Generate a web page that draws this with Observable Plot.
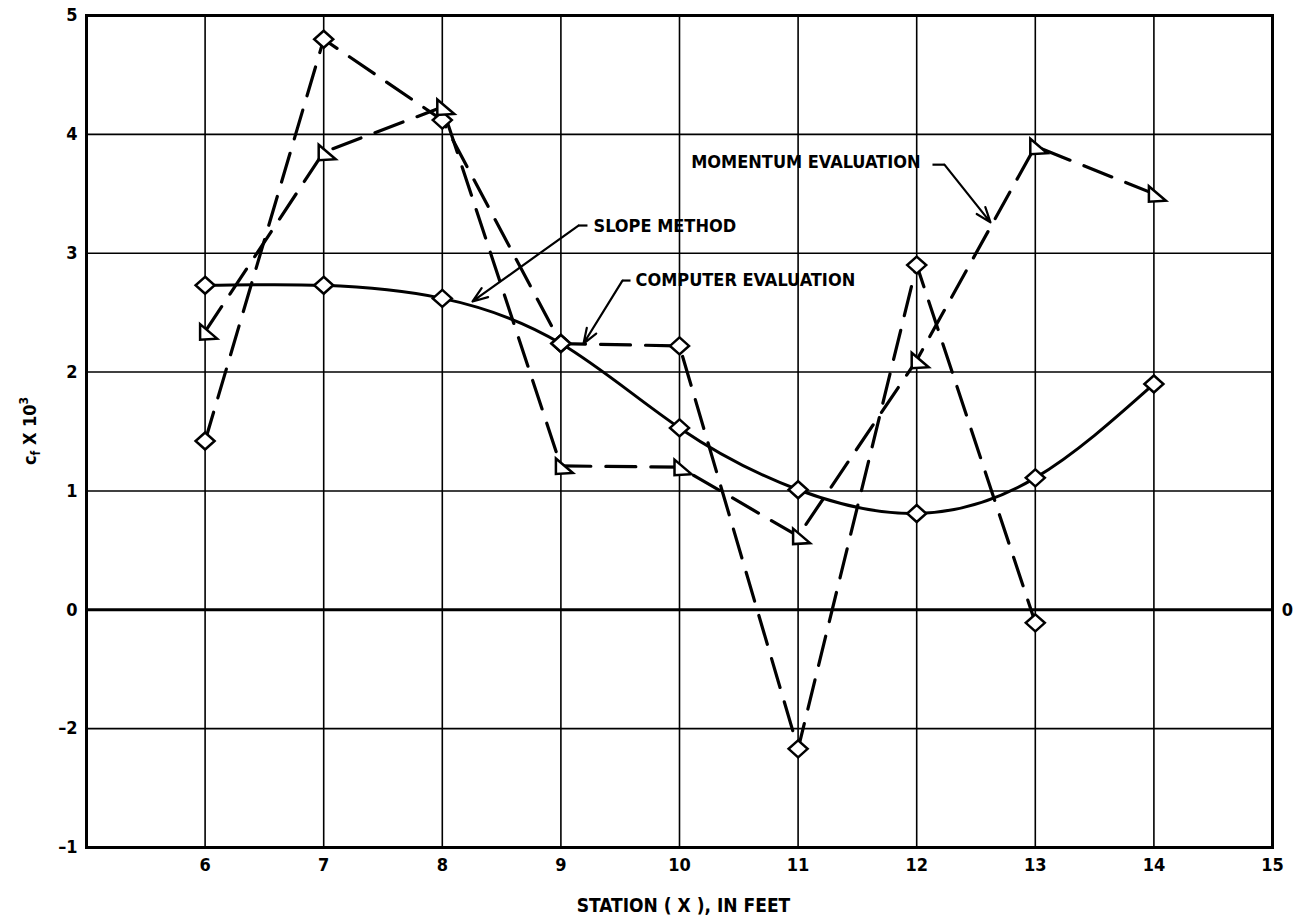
<!DOCTYPE html>
<html>
<head>
<meta charset="utf-8">
<script src="https://cdn.jsdelivr.net/npm/d3@7"></script>
<script src="https://cdn.jsdelivr.net/npm/@observablehq/plot@0.6"></script>
<style>
  html, body { margin: 0; padding: 0; background: #fff; }
  svg { display: block; }
</style>
</head>
<body>
<div id="chart"></div>
<script>
// ---- data ----
const stations = [6, 7, 8, 9, 10, 11, 12, 13, 14];
const slopeMethod = [2.73, 2.73, 2.62, 2.24, 1.53, 1.01, 0.81, 1.11, 1.90];
const computerStations = [6, 7, 8, 9, 10, 11, 12, 13];
const computerEval = [1.42, 4.80, 4.12, 2.24, 2.22, -1.17, 2.90, -0.11];
const momentumStations = [6, 7, 8, 9, 10, 11, 12, 13, 14];
const momentumEval = [2.34, 3.85, 4.23, 1.21, 1.20, 0.62, 2.10, 3.90, 3.50];

const xTickValues = [6, 7, 8, 9, 10, 11, 12, 13, 14, 15];
const yTickValues = [-2, -1, 0, 1, 2, 3, 4, 5];
const yTickLabels = ["\u20131", "\u20132", "0", "1", "2", "3", "4", "5"];
const xGrid = [6, 7, 8, 9, 10, 11, 12, 13, 14];
const yGrid = [-1, 1, 2, 3, 4];

// annotation labels and leader lines (data units)
const labelNames = ["SLOPE METHOD", "COMPUTER EVALUATION", "MOMENTUM EVALUATION"];
const labelX = [9.275, 9.629, 12.032];
const labelY = [3.225, 2.770, 3.766];
const labelAnchor = ["start", "start", "end"];
const hookX1 = [9.224, 9.587, 12.133];
const hookX2 = [9.148, 9.519, 12.234];
const hookY = [3.233, 2.770, 3.745];
const arrowX2 = [8.255, 9.191, 12.622];
const arrowY2 = [2.594, 2.240, 3.259];

const xLabel = "STATION ( X ), IN FEET";

// ---- tables ----
const slope = stations.map((x, i) => ({x, y: slopeMethod[i]}));
const computer = computerStations.map((x, i) => ({x, y: computerEval[i]}));
const momentum = momentumStations.map((x, i) => ({x, y: momentumEval[i]}));
const labels = labelNames.map((t, i) => ({t, x: labelX[i], y: labelY[i], a: labelAnchor[i]}));
const hooks = labelNames.map((t, i) => ({x1: hookX1[i], x2: hookX2[i], y: hookY[i]}));
const arrows = labelNames.map((t, i) => ({x1: hookX2[i], y1: hookY[i], x2: arrowX2[i], y2: arrowY2[i]}));

const diamond = { draw(ctx) { ctx.moveTo(0, -8.5); ctx.lineTo(9.5, 0); ctx.lineTo(0, 8.5); ctx.lineTo(-9.5, 0); ctx.closePath(); } };
const flag = { draw(ctx) { ctx.moveTo(-5, -7.5); ctx.lineTo(-5, 8); ctx.lineTo(12, 7); ctx.closePath(); } };

const FONT = "'Liberation Sans Narrow', 'DejaVu Sans Condensed', 'Arial Narrow', sans-serif";
const dash = "30,15";

const chart = Plot.plot({
  width: 1298,
  height: 923,
  marginLeft: 86,
  marginRight: 26,
  marginTop: 15,
  marginBottom: 76,
  x: {domain: [5, 15]},
  y: {domain: [-2, 5]},
  style: {fontFamily: FONT, fontSize: "18px", fontWeight: "bold", color: "#000", background: "#fff"},
  marks: [
    Plot.ruleX(xGrid, {stroke: "#000", strokeWidth: 1.6}),
    Plot.ruleY(yGrid, {stroke: "#000", strokeWidth: 1.6}),
    Plot.ruleY([0], {stroke: "#000", strokeWidth: 3}),
    Plot.frame({stroke: "#000", strokeWidth: 3}),
    Plot.line(slope, {x: "x", y: "y", curve: "natural", stroke: "#000", strokeWidth: 3}),
    Plot.line(computer, {x: "x", y: "y", stroke: "#000", strokeWidth: 3.2, strokeDasharray: dash, strokeLinecap: "round"}),
    Plot.line(momentum, {x: "x", y: "y", stroke: "#000", strokeWidth: 3.2, strokeDasharray: dash, strokeLinecap: "round"}),
    Plot.link(hooks, {x1: "x1", x2: "x2", y1: "y", y2: "y", stroke: "#000", strokeWidth: 2.2}),
    Plot.arrow(arrows, {x1: "x1", y1: "y1", x2: "x2", y2: "y2", stroke: "#000", strokeWidth: 2.2, headLength: 11, headAngle: 40}),
    Plot.dot(slope, {x: "x", y: "y", symbol: diamond, fill: "#fff", stroke: "#000", strokeWidth: 2.5}),
    Plot.dot(computer, {x: "x", y: "y", symbol: diamond, fill: "#fff", stroke: "#000", strokeWidth: 2.5}),
    Plot.dot(momentum, {x: "x", y: "y", symbol: flag, fill: "#fff", stroke: "#000", strokeWidth: 2.5}),
    Plot.text(labels, {x: "x", y: "y", text: "t", textAnchor: "start", fontSize: 18, fontWeight: "bold", filter: d => d.a === "start"}),
    Plot.text(labels, {x: "x", y: "y", text: "t", textAnchor: "end", fontSize: 18, fontWeight: "bold", filter: d => d.a === "end"}),
    Plot.text([0], {x: () => 15, y: d => d, text: () => "0", dx: 15, fontSize: 18, fontWeight: "bold"}),
    Plot.text([xLabel], {frameAnchor: "bottom", text: d => d, dy: 64, dx: 4, fontSize: 19, fontWeight: "bold"}),
    Plot.axisX({ticks: xTickValues, tickSize: 0, tickPadding: 11, label: null, fontSize: 18}),
    Plot.axisY({ticks: yTickValues, tickFormat: d => yTickLabels[yTickValues.indexOf(d)], tickSize: 0, tickPadding: 9, label: null, fontSize: 18})
  ]
});

document.getElementById("chart").appendChild(chart);

// y-axis label with subscript / superscript
const svg = d3.select(chart);
const yl = svg.append("text")
  .attr("transform", "translate(36,431) rotate(-90)")
  .attr("text-anchor", "middle")
  .attr("font-family", FONT)
  .attr("font-weight", "bold")
  .attr("font-size", 18)
  .attr("fill", "#000");
yl.append("tspan").text("c");
yl.append("tspan").attr("font-size", 12).attr("dy", 4).text("f");
yl.append("tspan").attr("dy", -4).text(" X 10");
yl.append("tspan").attr("font-size", 12).attr("dy", -8).text("3");
</script>
</body>
</html>
